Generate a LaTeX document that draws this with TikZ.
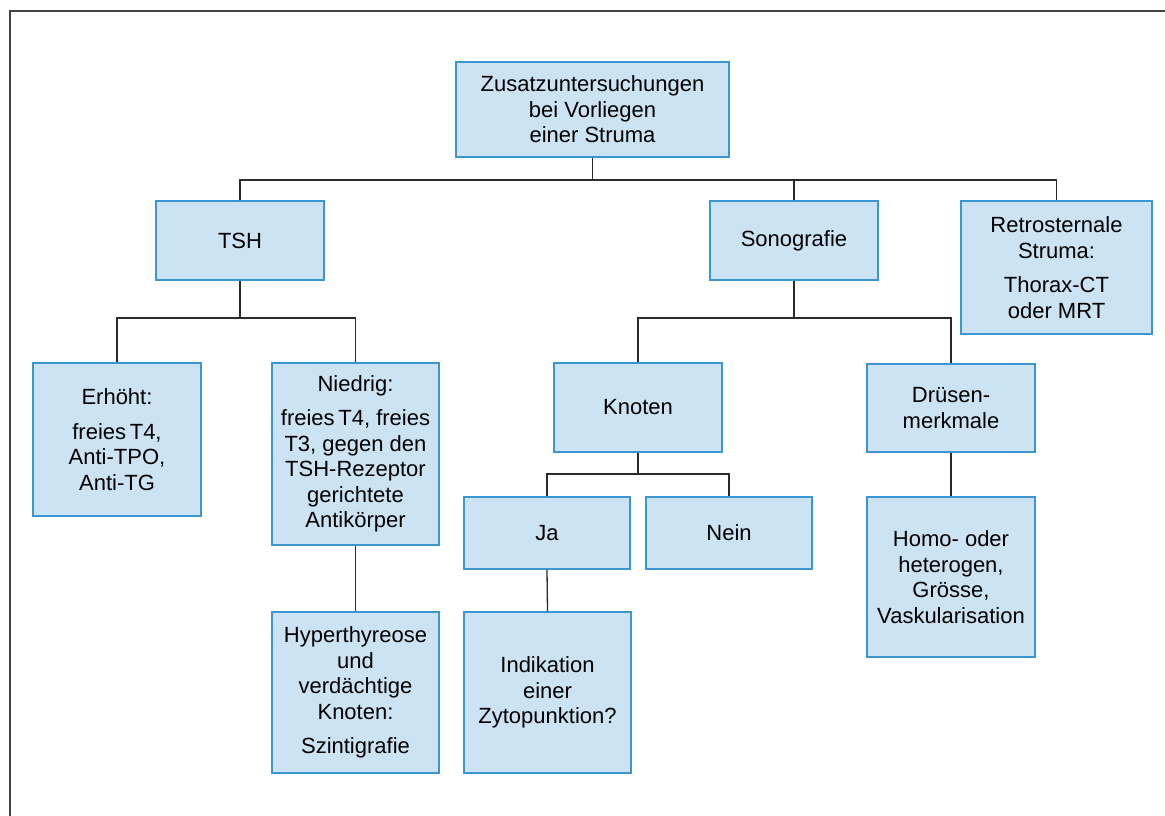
\documentclass[tikz,border=0pt]{standalone}
\usepackage{fontspec}
\setmainfont{Liberation Sans}
\usepackage{xcolor}
\usepackage{tikz}
\usetikzlibrary{calc}
\definecolor{boxfill}{HTML}{CCE3F3}
\definecolor{boxline}{HTML}{3D95D4}
\definecolor{linkgray}{HTML}{2B2B2B}
\definecolor{framegray}{HTML}{444444}

\begin{document}
\begin{tikzpicture}[
  x=1pt, y=-1pt,
  font=\fontsize{22}{25.5}\selectfont,
  box/.style={draw=boxline, fill=boxfill, line width=1.4pt, align=center,
    inner sep=4pt, minimum width=168pt},
  link/.style={linkgray, line width=1.3pt},
  frame/.style={framegray, line width=1.5pt}
]
\useasboundingbox (0,0) rectangle (1165,816);
\draw[frame] (1165,11) -- (10,11) -- (10,816);

% top level
\node[box, minimum width=273pt, minimum height=95pt] (root) at (592.5,109.5)
  {Zusatzuntersuchungen\\bei Vorliegen\\einer Struma};
\node[box, minimum height=79pt] (tsh) at (240,240.5) {TSH};
\node[box, minimum height=79pt] (sono) at (794,240.5) {Sonografie};
\node[box, minimum width=191pt, minimum height=133pt] (retro) at (1056.5,267.5)
  {Retrosternale\\Struma:\\[9pt]Thorax-CT\\oder MRT};

% TSH branch
\node[box, minimum height=153pt] (erh) at (117,439.5)
  {Erhöht:\\[9pt]freies\,T4,\\Anti-TPO,\\Anti-TG};
\node[box, minimum width=167pt, minimum height=182pt] (nied) at (355.5,454)
  {Niedrig:\\[9pt]freies\,T4, freies\\T3, gegen den\\TSH-Rezeptor\\gerichtete\\Antikörper};
\node[box, minimum width=167pt, minimum height=161pt] (hyper) at (355.5,692.5)
  {Hyperthyreose\\und\\verdächtige\\Knoten:\\[9pt]Szintigrafie};

% Sonografie branch
\node[box, minimum height=89pt] (knot) at (638,407.5) {Knoten};
\node[box, minimum height=88pt] (drues) at (951,408) {Drüsen-\\merkmale};
\node[box, minimum width=166pt, minimum height=72pt] (ja) at (547,533) {Ja};
\node[box, minimum width=166pt, minimum height=72pt] (nein) at (729,533) {Nein};
\node[box, minimum width=167pt, minimum height=161pt] (indik) at (547.5,692.5)
  {Indikation\\einer\\Zytopunktion?};
\node[box, minimum height=160pt] (homo) at (951,577)
  {Homo- oder\\heterogen,\\Grösse,\\Vaskularisation};

% connectors
\coordinate (busA) at (592.5,180);
\coordinate (busB) at (240,318);
\coordinate (busC) at (794,318);
\coordinate (busD) at (638,474);
\draw[link] (root.south) -- (busA);
\draw[link] (tsh.north) |- (busA) -| (retro.north);
\draw[link] (sono.north) -- (sono.north |- busA);
\draw[link] (tsh.south) -- (busB);
\draw[link] (erh.north) |- (busB) -| (nied.north);
\draw[link] (sono.south) -- (busC);
\draw[link] (knot.north) |- (busC) -| (drues.north);
\draw[link] (knot.south) -- (busD);
\draw[link] (ja.north) |- (busD) -| (nein.north);
\draw[link] (nied.south) -- (hyper.north);
\draw[link] (ja.south) -- (indik.north);
\draw[link] (drues.south) -- (homo.north);
\end{tikzpicture}
\end{document}
